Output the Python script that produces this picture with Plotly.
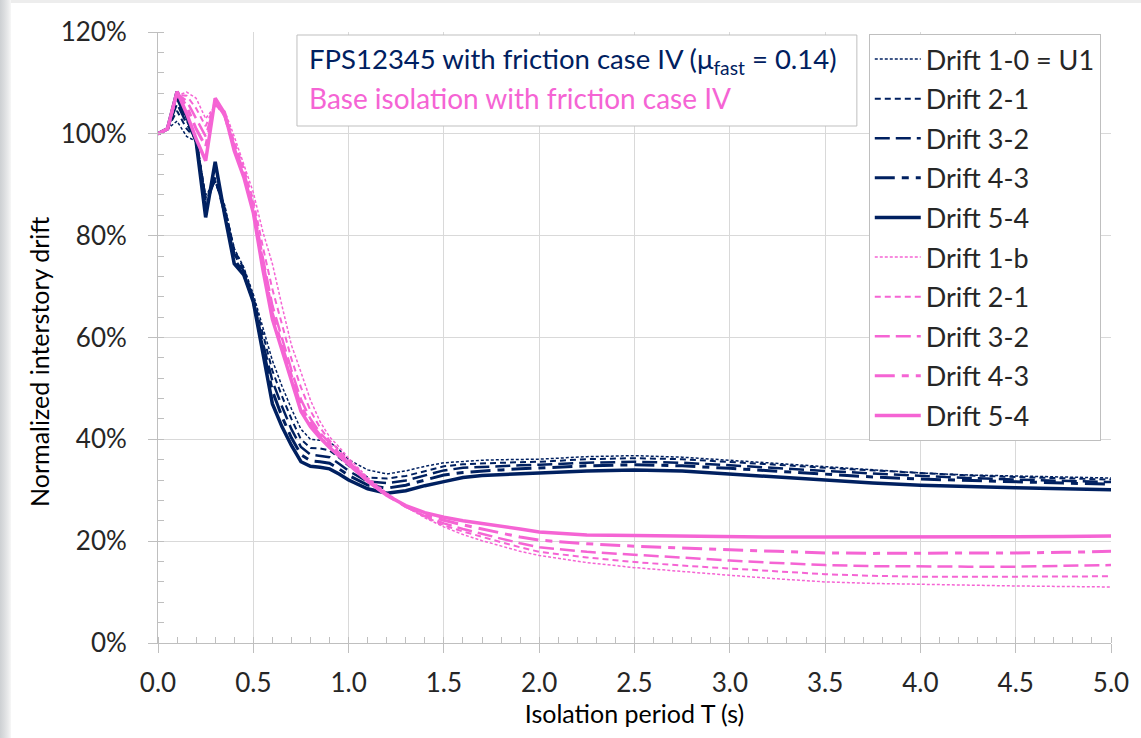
import plotly.graph_objects as go

# Isolation period T (s)
T = [0, 0.05, 0.1, 0.15, 0.2, 0.25, 0.3, 0.35, 0.4, 0.45, 0.5, 0.55, 0.6, 0.65, 0.7, 0.75,
     0.8, 0.85, 0.9, 0.95, 1.0, 1.1, 1.2, 1.3, 1.4, 1.5, 1.6, 1.7, 1.8, 1.9, 2.0,
     2.25, 2.5, 2.75, 3.0, 3.25, 3.5, 3.75, 4.0, 4.25, 4.5, 4.75, 5.0]

# FPS12345 (navy) normalized interstory drift, %
fps_1_0 = [100, 101, 102.5, 99.5, 98.5, 88, 90.5, 86, 77.5, 73.8, 68.5, 62, 55.5, 50.5, 46, 42,
           40, 39.8, 39.5, 38, 36, 34.0, 33.2, 33.8, 34.7, 35.4, 35.7, 35.9, 36.0, 36.1, 36.1,
           36.6, 36.8, 36.5, 35.9, 35.2, 34.6, 34.0, 33.4, 33.0, 32.8, 32.6, 32.4]
fps_2_1 = [100, 101, 104.5, 101, 99, 87.5, 90.8, 85.5, 77.3, 73.5, 68, 60.5, 53.5, 48.5, 44, 40,
           38.3, 38.2, 37.8, 36.4, 34.8, 32.5, 32.3, 32.8, 33.8, 34.7, 35.1, 35.3, 35.4, 35.5, 35.6,
           36.1, 36.3, 36.1, 35.6, 35.0, 34.4, 33.9, 33.3, 32.9, 32.6, 32.4, 32.1]
fps_3_2 = [100, 101, 106, 102, 99, 87, 91, 85, 76.5, 73, 67.5, 59, 51.5, 46.5, 42, 38.5,
           37.0, 36.8, 36.5, 35.2, 33.8, 31.7, 31.4, 31.9, 32.9, 33.9, 34.4, 34.6, 34.8, 34.9, 35.0,
           35.4, 35.6, 35.4, 34.9, 34.3, 33.8, 33.3, 32.8, 32.4, 32.1, 31.8, 31.6]
fps_4_3 = [100, 101, 107, 103, 98.8, 86, 91.5, 84.5, 75.5, 72.5, 67.2, 58, 49.5, 44.5, 40.3, 37.0,
           35.8, 35.6, 35.3, 34.2, 32.9, 31.0, 30.4, 31.0, 32.0, 33.0, 33.5, 33.8, 34.0, 34.2, 34.4,
           34.8, 35.0, 34.8, 34.3, 33.7, 33.1, 32.6, 32.2, 31.9, 31.7, 31.4, 31.2]
fps_5_4 = [100, 101, 108.3, 103.5, 98.5, 83.6, 94.5, 84, 74.5, 72.3, 67, 57, 47, 42.5, 38.8, 35.6,
           34.7, 34.5, 34.2, 33.2, 32.0, 30.3, 29.4, 29.9, 30.9, 31.7, 32.5, 32.9, 33.1, 33.3, 33.4,
           33.8, 34.0, 33.8, 33.2, 32.5, 31.9, 31.4, 31.0, 30.7, 30.5, 30.3, 30.1]

# Base isolation (pink) normalized interstory drift, %
bi_1_b = [100, 101, 107.5, 108.2, 107, 103, 105.5, 104.5, 99.5, 94, 88.5, 80.8, 74.5, 66.3, 58.5, 53.2,
          47.7, 43.5, 40.5, 38.5, 36.3, 32.5, 29.5, 26.8, 24.6, 22.8, 21.3, 20.1, 19.0, 18.0, 17.2,
          15.8, 14.8, 14.0, 13.3, 12.6, 12.0, 11.7, 11.5, 11.3, 11.2, 11.1, 11.0]
bi_2_1 = [100, 101, 107.6, 107.5, 105, 101.5, 105.8, 103.8, 98.5, 93.2, 87, 77.8, 69.5, 62.4, 55.8, 50.2,
          45.6, 42.3, 39.8, 37.8, 35.9, 32.2, 29.3, 26.8, 24.8, 23.1, 21.9, 20.8, 19.8, 18.8, 17.9,
          16.8, 15.9, 15.2, 14.6, 14.0, 13.5, 13.2, 13.0, 13.0, 13.0, 13.1, 13.1]
bi_3_2 = [100, 101, 107.8, 106.5, 103, 99.5, 106, 103.5, 97.8, 92.5, 85.8, 75.6, 66.3, 59.7, 53.6, 47.8,
          44.0, 41.3, 39.2, 37.3, 35.6, 32.0, 29.2, 26.8, 24.9, 23.5, 22.4, 21.4, 20.5, 19.6, 18.8,
          17.9, 17.3, 16.7, 16.2, 15.7, 15.3, 15.1, 15.0, 15.0, 15.0, 15.1, 15.3]
bi_4_3 = [100, 101, 108, 105.5, 101, 97.5, 106.5, 103.5, 97.2, 92, 85.0, 74.5, 64.8, 58.5, 52.5, 46.5,
          43.2, 40.8, 38.8, 37.0, 35.4, 31.8, 29.0, 26.8, 25.2, 24.1, 23.2, 22.4, 21.6, 20.8, 20.2,
          19.5, 19.0, 18.6, 18.3, 18.0, 17.7, 17.6, 17.6, 17.6, 17.7, 17.8, 18.0]
bi_5_4 = [100, 101, 108.3, 104, 99, 94.7, 107, 104, 96.7, 91.5, 84.5, 73.4, 63.6, 57.5, 51.5, 45.5,
          42.5, 40.3, 38.4, 36.7, 35.2, 31.8, 29.0, 27.0, 25.6, 24.7, 24.0, 23.5, 22.9, 22.4, 21.8,
          21.2, 21.1, 21.0, 20.8, 20.8, 20.8, 20.8, 20.8, 20.8, 20.9, 20.9, 21.0]

fps_names = ["Drift 1-0 = U1", "Drift 2-1", "Drift 3-2", "Drift 4-3", "Drift 5-4"]
bi_names = ["Drift 1-b", "Drift 2-1", "Drift 3-2", "Drift 4-3", "Drift 5-4"]
x_ticks = [0, 0.5, 1, 1.5, 2, 2.5, 3, 3.5, 4, 4.5, 5]
y_ticks = [0, 20, 40, 60, 80, 100, 120]

NAVY = "#002060"
PINK = "#F564D4"
FONT = "Lato"
TXT = 26
widths = [1.5, 2, 2.5, 3, 3.5]
dashes = ["3px,2px", "6px,4px", "15px,6px", "20px,7px,7px,7px", "solid"]

fig = go.Figure()
for i, (name, ys) in enumerate(zip(fps_names, [fps_1_0, fps_2_1, fps_3_2, fps_4_3, fps_5_4])):
    fig.add_trace(go.Scatter(x=T, y=ys, mode="lines", name=name, legendgroup=f"f{i}",
                             line=dict(color=NAVY, width=widths[i], dash=dashes[i])))
for i, (name, ys) in enumerate(zip(bi_names, [bi_1_b, bi_2_1, bi_3_2, bi_4_3, bi_5_4])):
    fig.add_trace(go.Scatter(x=T, y=ys, mode="lines", name=name, legendgroup=f"b{i}",
                             line=dict(color=PINK, width=widths[i], dash=dashes[i])))

L, R, TOP, B = 158, 23, 32, 95
W, H = 1141, 738
pw, ph = W - L - R, H - TOP - B


def px(xp):
    return (xp - L) / pw


def py(yp):
    return (H - B - yp) / ph


shapes = [
    # annotation box
    dict(type="rect", xref="paper", yref="paper", x0=px(298), x1=px(862),
         y0=py(126), y1=py(35), fillcolor="white", line=dict(color="#BFBFBF", width=1),
         layer="above"),
]

annotations = [
    dict(xref="paper", yref="paper", x=px(308), y=py(61), xanchor="left", yanchor="middle",
         text="FPS12345 with friction case IV (μ<sub>fast</sub> = 0.14)", showarrow=False,
         font=dict(family=FONT, size=27.5, color=NAVY)),
    dict(xref="paper", yref="paper", x=px(308), y=py(98), xanchor="left", yanchor="middle",
         text="Base isolation with friction case IV", showarrow=False,
         font=dict(family=FONT, size=28, color=PINK)),
    dict(xref="paper", yref="paper", x=px(38), y=py(362), xanchor="center", yanchor="middle",
         text="Normalized interstory drift", textangle=-90, showarrow=False,
         font=dict(family=FONT, size=25, color="black")),
]

axis_common = dict(showline=True, linecolor="#BFBFBF", linewidth=1, showgrid=True,
                   gridcolor="#D9D9D9", gridwidth=1, zeroline=False, ticks="outside",
                   tickcolor="#BFBFBF", ticklen=9, tickfont=dict(family=FONT, size=TXT, color="#262626"))

fig.update_layout(
    width=W, height=H,
    margin=dict(l=L, r=R, t=TOP, b=B),
    paper_bgcolor="white", plot_bgcolor="white",
    font=dict(family=FONT, color="#262626"),
    shapes=shapes, annotations=annotations,
    legend=dict(x=px(874), y=py(34), xanchor="left", yanchor="top", bgcolor="white",
                bordercolor="#BFBFBF", borderwidth=1, tracegroupgap=1.5,
                font=dict(family=FONT, size=27, color="#262626"), itemwidth=46),
    xaxis=dict(range=[0, 5], tickvals=x_ticks, ticktext=[f"{v:.1f}" for v in x_ticks],
               title=dict(text="Isolation period T (s)", font=dict(family=FONT, size=25, color="black"),
                          standoff=6),
               minor=dict(dtick=0.1, ticks="inside", ticklen=6, tickcolor="#BFBFBF", showgrid=False),
               ticklabelstandoff=8, **axis_common),
    yaxis=dict(range=[0, 120], tickvals=y_ticks, ticktext=[f"{v}%" for v in y_ticks],
               minor=dict(dtick=4, ticks="inside", ticklen=6, tickcolor="#BFBFBF", showgrid=False),
               ticklabelstandoff=16, **axis_common),
)

# page edge: grey gradient strip on the left and a thin light strip at the top
page_js = (
    "document.body.style.margin='0';"
    "(function(){"
    "var a=document.createElement('div');"
    "a.style.cssText='position:fixed;left:0;top:0;width:11px;height:100%;z-index:1000;pointer-events:none;"
    "background:linear-gradient(to right,#CDD0D3 0px,#DADCDE 4px,#E9EAEB 8px,#F7F7F7 11px);';"
    "document.body.appendChild(a);"
    "var b=document.createElement('div');"
    "b.style.cssText='position:fixed;left:11px;top:0;right:0;height:3px;z-index:1000;pointer-events:none;"
    "background:#EDEDED;';"
    "document.body.appendChild(b);"
    "})();"
)
fig.write_html("out.html", config={"displayModeBar": False}, post_script=page_js)
